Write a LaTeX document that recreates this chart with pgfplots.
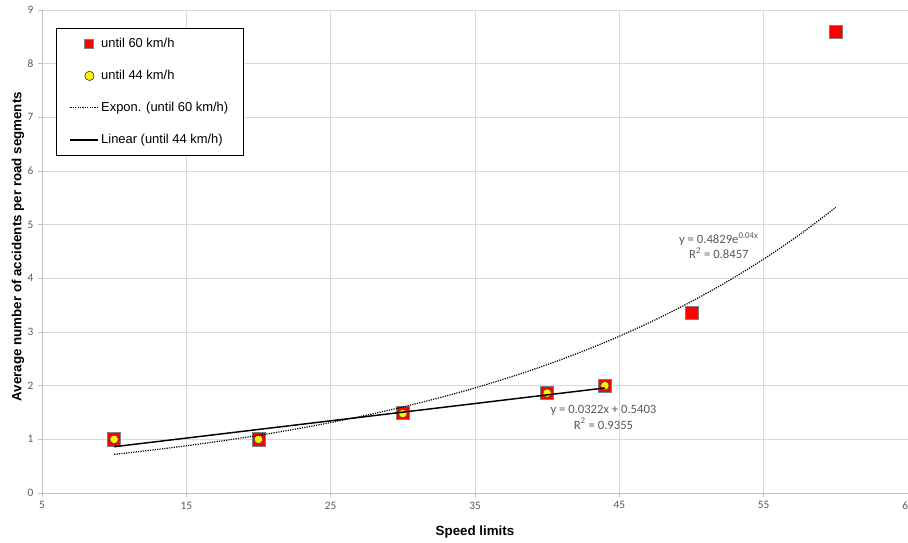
\documentclass[border=0pt]{standalone}
\usepackage{pgfplots}
\pgfplotsset{compat=1.18}
\usepackage{fontspec}
\setmainfont{Liberation Sans}
\newfontfamily\calibri{Carlito}
\definecolor{gridgray}{HTML}{D9D9D9}
\definecolor{axgray}{HTML}{BFBFBF}
\definecolor{tickgray}{HTML}{595959}
\definecolor{eqgray}{HTML}{595959}
\definecolor{sqborder}{HTML}{7F7F7F}
\begin{document}
\begin{tikzpicture}
\begin{axis}[
  scale only axis, width=649.5pt, height=362.25pt,
  xmin=5, xmax=65, ymin=0, ymax=9,
  xtick={5,15,...,65}, ytick={0,1,...,9},
  grid=major, major grid style={draw=gridgray, line width=0.6pt},
  axis lines=left, axis line style={-, draw=axgray, line width=0.6pt},
  tick align=outside, major tick length=3pt, tick style={draw=axgray, line width=0.6pt},
  /pgf/number format/assume math mode=true,
  ticklabel style={font=\calibri\fontsize{8.5}{10}\selectfont, text=tickgray},
  xlabel={Speed limits},
  ylabel={Average number of accidents per road segments},
  label style={font=\bfseries\fontsize{10}{12}\selectfont},
  xlabel style={at={(rel axis cs:0.5,0)}, anchor=center, yshift=-29.25pt},
  ylabel style={at={(rel axis cs:0,0.51)}, anchor=center, yshift=18pt},
  legend style={at={(rel axis cs:0,1)}, anchor=north west, xshift=10.5pt, yshift=-13.5pt,
    draw=black, line width=0.6pt, font=\fontsize{9.7}{11}\selectfont,
    inner xsep=10pt, inner ysep=5.5pt, row sep=11.8pt,
    nodes={inner sep=1.5pt, text height=7.2pt, text depth=2pt}},
  legend cell align=left,
  clip mode=individual,
]
\addplot[only marks, mark=square*, mark size=4.9pt,
  mark options={fill=red, draw=sqborder, line width=0.5pt},
  legend image code/.code={\node[draw=sqborder, fill=red, minimum size=6.5pt, inner sep=0pt, text height=0pt, text depth=0pt, line width=0.5pt] at (10.5pt,0pt) {};}]
  coordinates {(10,1) (20,1) (30,1.49) (40,1.86) (44,2) (50,3.35) (60,8.6)};
\addlegendentry{until 60 km/h}
\addplot[only marks, mark=*, mark size=3.2pt,
  mark options={fill=yellow, draw=black!70, line width=0.5pt},
  legend image code/.code={\node[circle, draw=black!75, fill=yellow, minimum size=7pt, inner sep=0pt, text height=0pt, text depth=0pt, line width=0.5pt] at (10.5pt,0pt) {};}]
  coordinates {(10,1) (20,1) (30,1.48) (40,1.86) (44,2)};
\addlegendentry{until 44 km/h}
\addplot[black, line width=0.9pt, dash pattern=on 0.9pt off 0.9pt, smooth, no marks,
  legend image code/.code={\draw[black, line width=0.9pt, dash pattern=on 0.9pt off 0.9pt] (0pt,0pt) -- (21pt,0pt);}]
  coordinates {(10,0.7204) (12.5,0.7962) (15,0.8799) (17.5,0.9724) (20,1.0747) (22.5,1.1877)
    (25,1.3127) (27.5,1.4507) (30,1.6033) (32.5,1.7719) (35,1.9583) (37.5,2.1642)
    (40,2.3918) (42.5,2.6434) (45,2.9214) (47.5,3.2286) (50,3.5682) (52.5,3.9434)
    (55,4.3582) (57.5,4.8165) (60,5.3231)};
\addlegendentry{Expon. (until 60 km/h)}
\addplot[black, line width=1.1pt, no marks,
  legend image code/.code={\draw[black, line width=1.1pt] (0pt,0pt) -- (21pt,0pt);}]
  coordinates {(10,0.8623) (44,1.9571)};
\addlegendentry{Linear (until 44 km/h)}
\node[font=\calibri\fontsize{9.5}{11.5}\selectfont, text=eqgray, align=center]
  at (axis cs:51.9,4.61) {y = 0.4829e\textsuperscript{0.04x}\\R\textsuperscript{2} = 0.8457};
\node[font=\calibri\fontsize{9.5}{11.5}\selectfont, text=eqgray, align=center]
  at (axis cs:43.9,1.41) {y = 0.0322x + 0.5403\\R\textsuperscript{2} = 0.9355};
\coordinate (SW) at (rel axis cs:0,0);
\coordinate (NE) at (rel axis cs:1,1);
\end{axis}
\pgfresetboundingbox
\useasboundingbox ([shift={(-31.5pt,-36.75pt)}]SW) rectangle ([shift={(0pt,7.5pt)}]NE);
\end{tikzpicture}
\end{document}
